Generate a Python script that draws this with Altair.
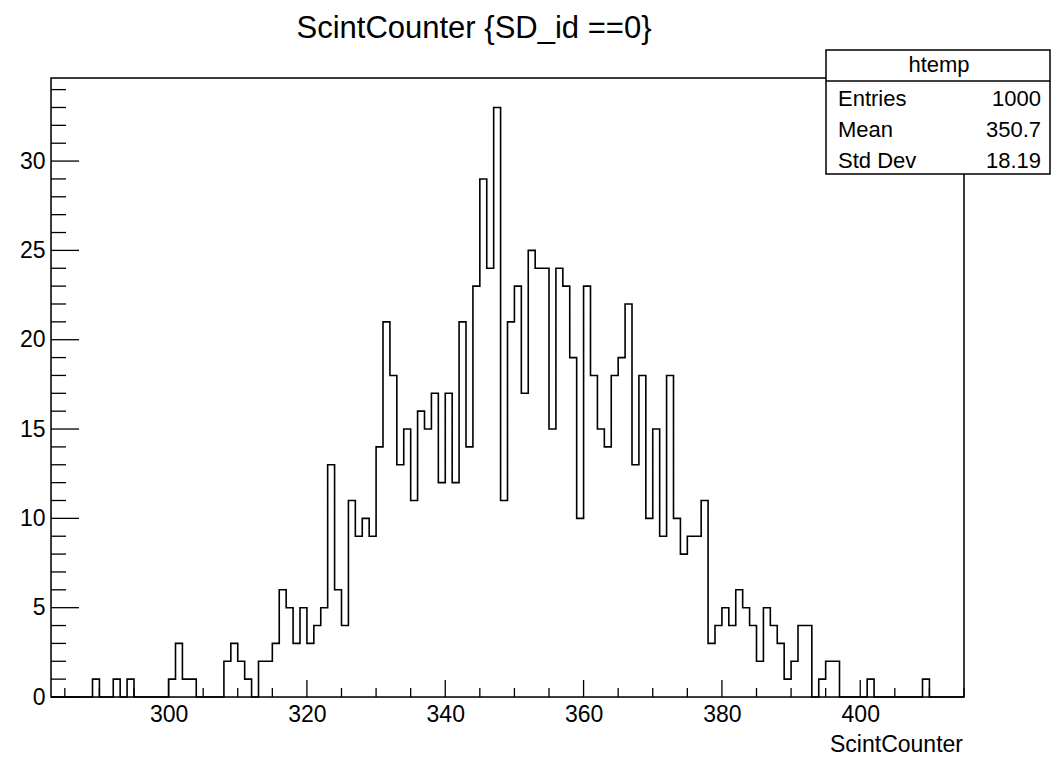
import altair as alt
import pandas as pd

# ---------------- data ----------------
bin_start = 283          # left edge of first bin
bin_end = 415            # right edge of last bin (bin width 1)
counts = [
    0, 0, 0, 0, 0, 0, 1, 0, 0, 1,        # 283-292
    0, 1, 0, 0, 0, 0, 0, 1, 3, 1,        # 293-302
    1, 0, 0, 0, 0, 2, 3, 2, 1, 0,        # 303-312
    2, 2, 3, 6, 5, 3, 5, 3, 4, 5,        # 313-322
    13, 6, 4, 11, 9, 10, 9, 14, 21, 18,  # 323-332
    13, 15, 11, 16, 15, 17, 12, 17, 12, 21,  # 333-342
    14, 23, 29, 24, 33, 11, 21, 23, 17, 25,  # 343-352
    24, 24, 15, 24, 23, 19, 10, 23, 18, 15,  # 353-362
    14, 18, 19, 22, 13, 18, 10, 15, 9, 18,   # 363-372
    10, 8, 9, 9, 11, 3, 4, 5, 4, 6,      # 373-382
    5, 4, 2, 5, 4, 3, 1, 2, 4, 4,        # 383-392
    0, 1, 2, 2, 0, 0, 0, 0, 1, 0,        # 393-402
    0, 0, 0, 0, 0, 0, 1, 0, 0, 0,        # 403-412
    0, 0,                                # 413-414
]
y_max = 34.65

x_major = [300, 320, 340, 360, 380, 400]
x_minor = [v for v in range(285, 416, 5) if v not in x_major]
y_major = [0, 5, 10, 15, 20, 25, 30]
y_minor = [v for v in range(1, 35) if v % 5 != 0]

title_text = "ScintCounter {SD_id ==0}"
x_title = "ScintCounter"
stats_header = "htemp"
stats_names = ["Entries", "Mean", "Std Dev"]
stats_values = ["1000", "350.7", "18.19"]

# ---------------- layout ----------------
W, H = 913, 619
FONT = "Liberation Sans"

edges = list(range(bin_start, bin_end + 1))
hist = pd.DataFrame({"x": edges, "n": counts + [counts[-1]]})

xs = alt.Scale(domain=[bin_start, bin_end], nice=False, zero=False)
ys = alt.Scale(domain=[0, y_max], nice=False, zero=True)

x_axis = alt.Axis(
    values=x_major, title=None, ticks=False, domain=False, grid=False,
    labelFont=FONT, labelFontSize=23, labelColor="black", labelPadding=6,
    labelFlush=False)
y_axis = alt.Axis(
    values=y_major, title=None, ticks=False, domain=False, grid=False,
    labelFont=FONT, labelFontSize=23, labelColor="black", labelPadding=6,
    labelFlush=False)

hist_line = alt.Chart(hist).mark_line(
    interpolate="step-after", color="black", strokeWidth=1.6
).encode(
    x=alt.X("x:Q", scale=xs, axis=x_axis),
    y=alt.Y("n:Q", scale=ys, axis=y_axis),
)

frame = alt.Chart(pd.DataFrame({"a": [0]})).mark_rect(
    filled=False, stroke="black", strokeWidth=1.5
).encode(x=alt.value(0), x2=alt.value(W), y=alt.value(0), y2=alt.value(H))

def xticks(vals, length):
    return alt.Chart(pd.DataFrame({"x": vals})).mark_rule(
        color="black", strokeWidth=1.3
    ).encode(x=alt.X("x:Q", scale=xs, axis=x_axis),
             y=alt.value(H), y2=alt.value(H - length))

def yticks(vals, length):
    return alt.Chart(pd.DataFrame({"n": vals})).mark_rule(
        color="black", strokeWidth=1.3
    ).encode(y=alt.Y("n:Q", scale=ys, axis=y_axis),
             x=alt.value(0), x2=alt.value(length))

stats_box = alt.Chart(pd.DataFrame({"a": [0]})).mark_rect(
    fill="white", stroke="black", strokeWidth=1.5
).encode(x=alt.value(775), x2=alt.value(999), y=alt.value(-28), y2=alt.value(96))

stats_div = alt.Chart(pd.DataFrame({"a": [0]})).mark_rule(
    color="black", strokeWidth=1.5
).encode(x=alt.value(775), x2=alt.value(999), y=alt.value(3))

def text(s, x, y, size, align="left"):
    return alt.Chart(pd.DataFrame({"t": [s]})).mark_text(
        font=FONT, fontSize=size, color="black", align=align, baseline="alphabetic"
    ).encode(text="t:N", x=alt.value(x), y=alt.value(y))

layers = [
    hist_line,
    frame,
    xticks(x_major, 17), xticks(x_minor, 9),
    yticks(y_major, 28), yticks(y_minor, 15),
    stats_box, stats_div,
    text(stats_header, 888, -6, 22, "center"),
]
row_y = [28, 59, 90]
for name, val, yy in zip(stats_names, stats_values, row_y):
    layers.append(text(name, 787, yy, 22, "left"))
    layers.append(text(val, 990, yy, 22, "right"))
layers.append(text(title_text, 423, -40, 31, "center"))
layers.append(text(x_title, 912, 674, 23, "right"))

chart = alt.layer(*layers).properties(
    width=W, height=H,
    autosize=alt.AutoSizeParams(type="none"),
    padding={"left": 51, "top": 78, "right": 87, "bottom": 61},
).configure_view(stroke=None).configure(background="white")

chart.save("out.html", embed_options={"renderer": "svg", "actions": False})
